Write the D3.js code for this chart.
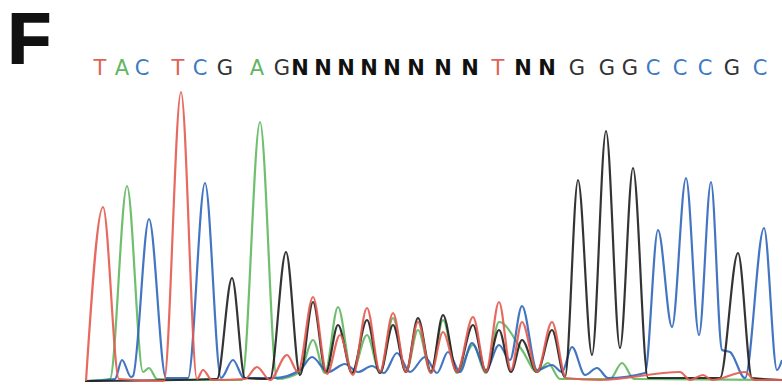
<!DOCTYPE html>
<html>
<head>
<meta charset="utf-8">
<script src="https://cdn.jsdelivr.net/npm/d3@7"></script>
<style>
  html, body { margin: 0; padding: 0; background: #fff; }
</style>
</head>
<body>
<svg id="chart" width="782" height="385"></svg>
<script>
// Panel label
const panelLabel = "F";

// Base calls and their positions along the trace (scan units)
const bases   = ["T","A","C","T","C","G","A","G","N","N","N","N","N","N","N","N","T","N","N","G","G","G","C","C","C","G","C"];
const basePos = [20, 42, 62, 98, 120, 145, 177, 202, 220, 243, 266, 289, 312, 336, 363, 390, 418, 443, 467, 497, 527, 550, 573, 600, 625, 652, 680];

// Fluorescence traces: [scan, intensity] vertices (valleys and peaks) per dye channel
const traceA = [[5,0],[30,2],[47,195],[63,9],[69,13],[77,2],[120,1],[162,1],[180,259],[197,2],
  [220,9],[233,41],[245,8],[258,74],[272,8],[287,46],[300,8],[313,63],[326,9],[338,51],[351,8],
  [363,61],[377,8],[393,36],[406,8],[419,59],[442,31],[457,9],[468,18],[480,2],[530,2],[542,18],
  [554,2],[702,1]];

const traceC = [[10,0],[35,2],[42,21],[51,4],[53,5],[69,162],[86,3],[108,3],[125,198],[141,3],
  [153,21],[164,3],[195,3],[220,11],[232,24],[248,9],[265,17],[278,9],[292,15],[304,8],[317,28],
  [330,9],[345,24],[357,8],[368,29],[380,9],[392,38],[406,11],[419,36],[430,21],[442,75],[457,11],
  [472,16],[482,9],[492,34],[505,6],[517,13],[528,3],[565,8],[578,151],[592,54],[606,203],[619,46],
  [631,199],[642,31],[650,29],[665,3],[684,153],[697,11],[702,21]];

const traceG = [[5,0],[137,2],[152,103],[165,3],[190,2],[206,129],[220,6],[233,79],[246,9],
  [258,56],[272,8],[287,61],[300,8],[313,56],[326,9],[338,63],[351,9],[363,66],[377,9],[393,56],
  [406,9],[419,51],[431,9],[442,41],[457,9],[472,51],[485,4],[498,201],[512,26],[526,250],[540,33],
  [553,213],[568,3],[640,3],[658,128],[672,3],[702,1]];

const traceT = [[6,0],[23,174],[39,2],[84,0],[101,289],[117,2],[123,11],[132,1],[165,2],[177,14],
  [190,1],[207,26],[218,9],[233,84],[247,7],[260,46],[273,6],[287,73],[300,9],[313,68],[326,9],
  [338,59],[351,8],[363,49],[377,9],[393,64],[406,9],[419,79],[431,11],[442,59],[457,9],[472,59],
  [486,3],[520,1],[600,9],[610,1],[623,6],[632,1],[665,9],[675,1],[702,1]];

const dyeColor = { A: "#5fb85f", C: "#2f66bb", G: "#1e1e1e", T: "#e45a4f", N: "#111" };
const labelColor = { A: "#62b562", C: "#3d7bc4", G: "#333", T: "#e06454", N: "#111" };

const svg = d3.select("#chart");

const x = d3.scaleLinear().domain([0, 702]).range([80, 782]);
const y = d3.scaleLinear().domain([0, 300]).range([381, 81]);

// Panel letter
svg.append("text")
  .attr("x", 8).attr("y", 63)
  .attr("font-family", "Liberation Sans, Arial, sans-serif")
  .attr("font-weight", "bold")
  .attr("font-size", 70)
  .attr("fill", "#111")
  .attr("stroke", "#111")
  .attr("stroke-width", 2)
  .text(panelLabel);

// Base call row
svg.append("g")
  .selectAll("text")
  .data(bases.map((b, i) => ({ b, p: basePos[i] })))
  .join("text")
  .attr("x", d => x(d.p))
  .attr("y", 75)
  .attr("text-anchor", "middle")
  .attr("font-family", "DejaVu Sans, Verdana, sans-serif")
  .attr("font-size", 21)
  .attr("font-weight", d => d.b === "N" ? "bold" : "normal")
  .attr("fill", d => labelColor[d.b])
  .text(d => d.b);

// Traces
const line = d3.line()
  .x(d => x(d[0]))
  .y(d => y(d[1]))
  .curve(d3.curveMonotoneX);

const traces = [
  { base: "A", pts: traceA },
  { base: "C", pts: traceC },
  { base: "G", pts: traceG },
  { base: "T", pts: traceT }
];

svg.append("g")
  .selectAll("path")
  .data(traces)
  .join("path")
  .attr("d", d => line(d.pts))
  .attr("fill", "none")
  .attr("stroke", d => dyeColor[d.base])
  .attr("stroke-width", 2.2)
  .attr("stroke-linejoin", "round")
  .attr("stroke-opacity", 0.9);
</script>
</body>
</html>
